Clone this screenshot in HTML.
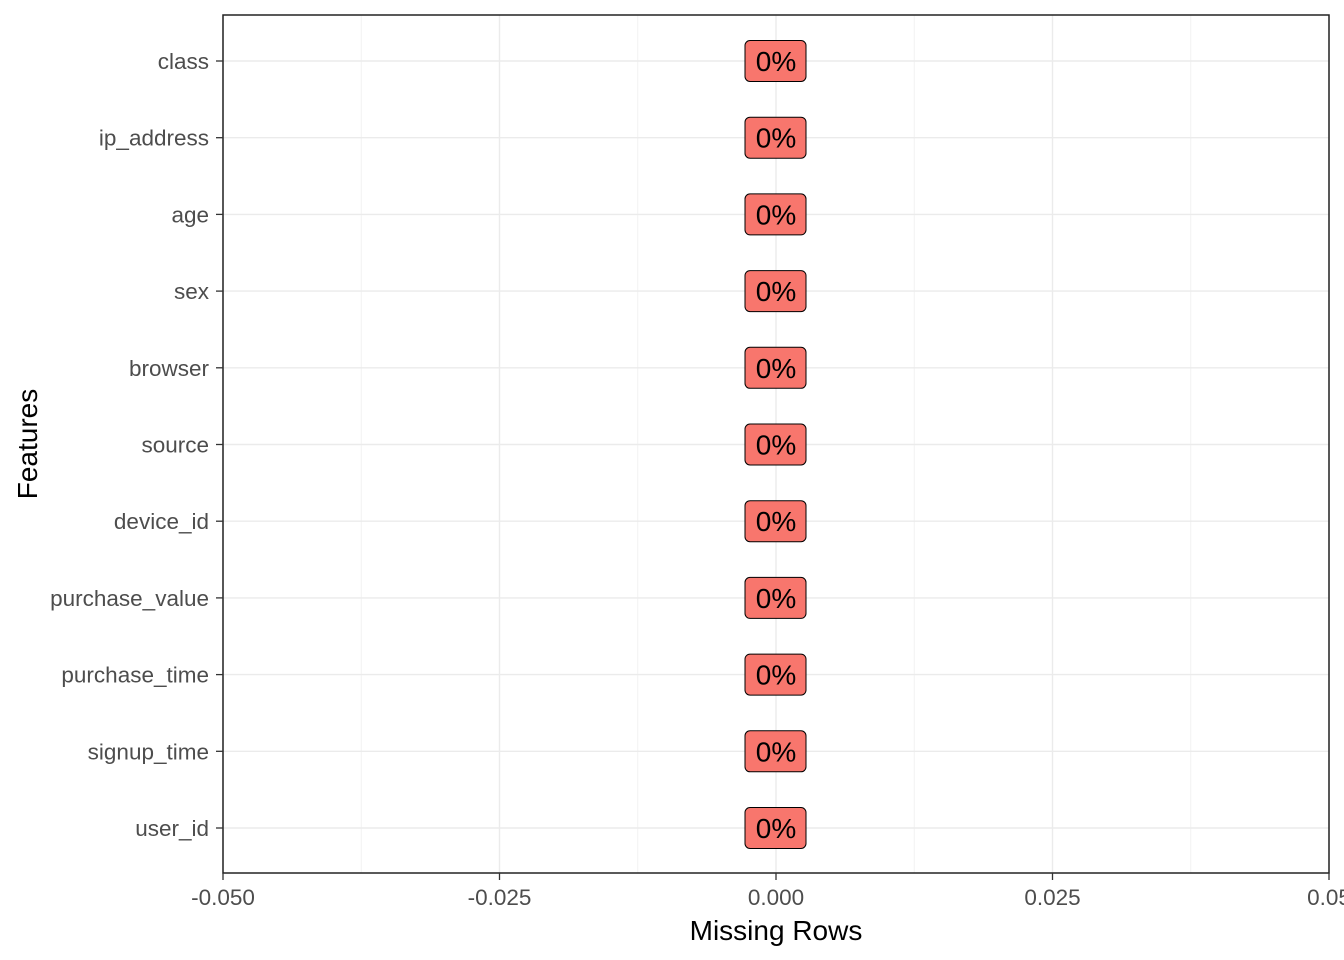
<!DOCTYPE html>
<html><head><meta charset="utf-8"><style>
html,body{margin:0;padding:0;background:#fff}
svg{display:block}
text{font-family:"Liberation Sans",Arial,sans-serif}
</style></head><body>
<svg id="chart" width="1344" height="960">
<rect x="0" y="0" width="1344" height="960" fill="#fff"/>
<g id="grid"></g>
<g id="bars"></g>
<rect x="223" y="15" width="1106" height="858" fill="none" stroke="#222" stroke-width="1.5"/>
<g id="axes"></g>
<text x="776" y="940" text-anchor="middle" font-size="28" fill="#000">Missing Rows</text>
<text transform="translate(37,444) rotate(-90)" text-anchor="middle" font-size="28" fill="#000">Features</text>
</svg>
<script>
const categories = ["user_id","signup_time","purchase_time","purchase_value","device_id","source","browser","sex","age","ip_address","class"];
const values = [0,0,0,0,0,0,0,0,0,0,0];
const labels = ["0%","0%","0%","0%","0%","0%","0%","0%","0%","0%","0%"];
const xTicks = [-0.05,-0.025,0,0.025,0.05];
const xTickLabels = ["-0.050","-0.025","0.000","0.025","0.05"];
const xMinor = [-0.0375,-0.0125,0.0125,0.0375];

const NS="http://www.w3.org/2000/svg";
const L=223,R=1329,T=15,B=873;
const x=v=>L+(v+0.05)/0.1*(R-L);
const step=(828-61)/(categories.length-1);
const y=i=>828-i*step;
function mk(tag,attrs,parent){const e=document.createElementNS(NS,tag);for(const k in attrs)e.setAttribute(k,attrs[k]);parent.appendChild(e);return e;}
const grid=document.getElementById('grid'),bars=document.getElementById('bars'),axes=document.getElementById('axes');
xMinor.forEach(v=>{const l=mk('line',{x1:x(v),x2:x(v),y1:T,y2:B,stroke:'#f2f2f2','stroke-width':1},grid);

});
xTicks.forEach((v,i)=>{const l=mk('line',{x1:x(v),x2:x(v),y1:T,y2:B,stroke:'#ebebeb','stroke-width':1.4},grid);


const t=mk('line',{x1:x(v),x2:x(v),y1:B,y2:B+7,stroke:'#333','stroke-width':1.3},axes);


const tx=mk('text',{x:x(v),y:B+32,'text-anchor':'middle','font-size':22.5,fill:'#4d4d4d'},axes);
tx.textContent=xTickLabels[i];

});
categories.forEach((c,i)=>{const yy=y(i);
const g=mk('line',{x1:L,x2:R,y1:yy,y2:yy,stroke:'#ebebeb','stroke-width':1.4},grid);


const t=mk('line',{x1:L-7,x2:L,y1:yy,y2:yy,stroke:'#333','stroke-width':1.3},axes);


const tx=mk('text',{x:L-14,y:yy+8,'text-anchor':'end','font-size':22.5,fill:'#4d4d4d'},axes);
tx.textContent=c;


const cx=x(values[i]);
const r=mk('rect',{x:cx-31,y:yy-20.5,width:61,height:41,rx:5,fill:'#F8766D',stroke:'#000','stroke-width':1},bars);


const lt=mk('text',{x:cx,y:yy+10,'text-anchor':'middle','font-size':28,fill:'#000'},bars);
lt.textContent=labels[i];

});
</script>
</body></html>
